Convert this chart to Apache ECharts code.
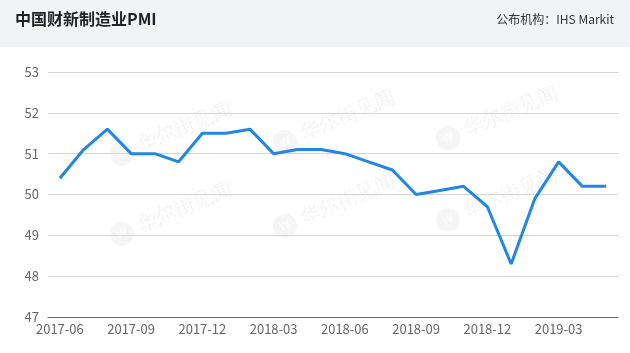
<!DOCTYPE html>
<html>
<head>
<meta charset="utf-8">
<script src="https://cdn.jsdelivr.net/npm/echarts@6/dist/echarts.min.js"></script>
<style>
    html, body { margin: 0; padding: 0; background: #fff; }
    #chart-pmi { width: 630px; height: 353px; }
</style>
</head>
<body>
<div id="chart-pmi"></div>
<script>
// Caixin China manufacturing PMI, monthly
var months = ['2017-06', '2017-07', '2017-08', '2017-09', '2017-10', '2017-11', '2017-12',
    '2018-01', '2018-02', '2018-03', '2018-04', '2018-05', '2018-06', '2018-07', '2018-08',
    '2018-09', '2018-10', '2018-11', '2018-12', '2019-01', '2019-02', '2019-03', '2019-04', '2019-05'];
var pmi = [50.4, 51.1, 51.6, 51.0, 51.0, 50.8, 51.5, 51.5, 51.6, 51.0, 51.1, 51.1, 51.0, 50.8, 50.6,
    50.0, 50.1, 50.2, 49.7, 48.3, 49.9, 50.8, 50.2, 50.2];
var yTicks = [47, 48, 49, 50, 51, 52, 53];

var font = '"Noto Sans CJK SC", "Microsoft YaHei", sans-serif';

// faint watermark: logo circle + text, rotated
function watermark(x, y) {
    return {
        type: 'group',
        x: x,
        y: y,
        rotation: Math.PI / 8,
        silent: true,
        z: 0,
        children: [
            { type: 'circle', shape: { cx: 0, cy: 0, r: 12 }, style: { fill: '#f5f5f5' } },
            { type: 'text', x: 0, y: 0, style: { text: 'W', fill: '#fbfbfb', font: 'bold 11px sans-serif', align: 'center', verticalAlign: 'middle' } },
            { type: 'text', x: 18, y: 0, style: { text: '华尔街见闻', fill: '#f4f4f4', font: '20px serif', verticalAlign: 'middle' } }
        ]
    };
}

var chart_pmi = echarts.init(document.getElementById('chart-pmi'));

var option_pmi = {
    animation: false,
    graphic: [
        { type: 'rect', left: 0, top: 0, shape: { width: 630, height: 47 }, style: { fill: '#f2f3f5' }, silent: true },
        { type: 'text', left: 15, top: 11, style: { text: '中国财新制造业PMI', fill: '#222', font: 'bold 16px ' + font } },
        { type: 'text', right: 16, top: 13, style: { text: '公布机构：IHS Markit', fill: '#333', font: '12px ' + font } },
        watermark(122, 154), watermark(122, 234),
        watermark(285, 142), watermark(285, 226),
        watermark(448, 138), watermark(448, 220)
    ],
    grid: {
        left: 48,
        right: 12,
        top: 72,
        bottom: 36
    },
    xAxis: {
        type: 'category',
        data: months,
        boundaryGap: true,
        axisLine: { lineStyle: { color: '#666', width: 1 } },
        axisTick: { show: false },
        axisLabel: {
            interval: 2,
            color: '#666',
            fontSize: 13,
            fontFamily: font,
            margin: 6
        }
    },
    yAxis: {
        type: 'value',
        min: yTicks[0],
        max: yTicks[yTicks.length - 1],
        interval: 1,
        axisLine: { show: false },
        axisTick: { show: false },
        axisLabel: { color: '#666', fontSize: 13, fontFamily: font, margin: 9 },
        splitLine: { lineStyle: { color: '#d4d4d4' } }
    },
    series: [
        {
            name: '中国财新制造业PMI',
            type: 'line',
            data: pmi,
            showSymbol: false,
            symbol: 'none',
            z: 5,
            lineStyle: { color: '#2486e3', width: 3 }
        }
    ]
};

chart_pmi.setOption(option_pmi);
</script>
</body>
</html>
